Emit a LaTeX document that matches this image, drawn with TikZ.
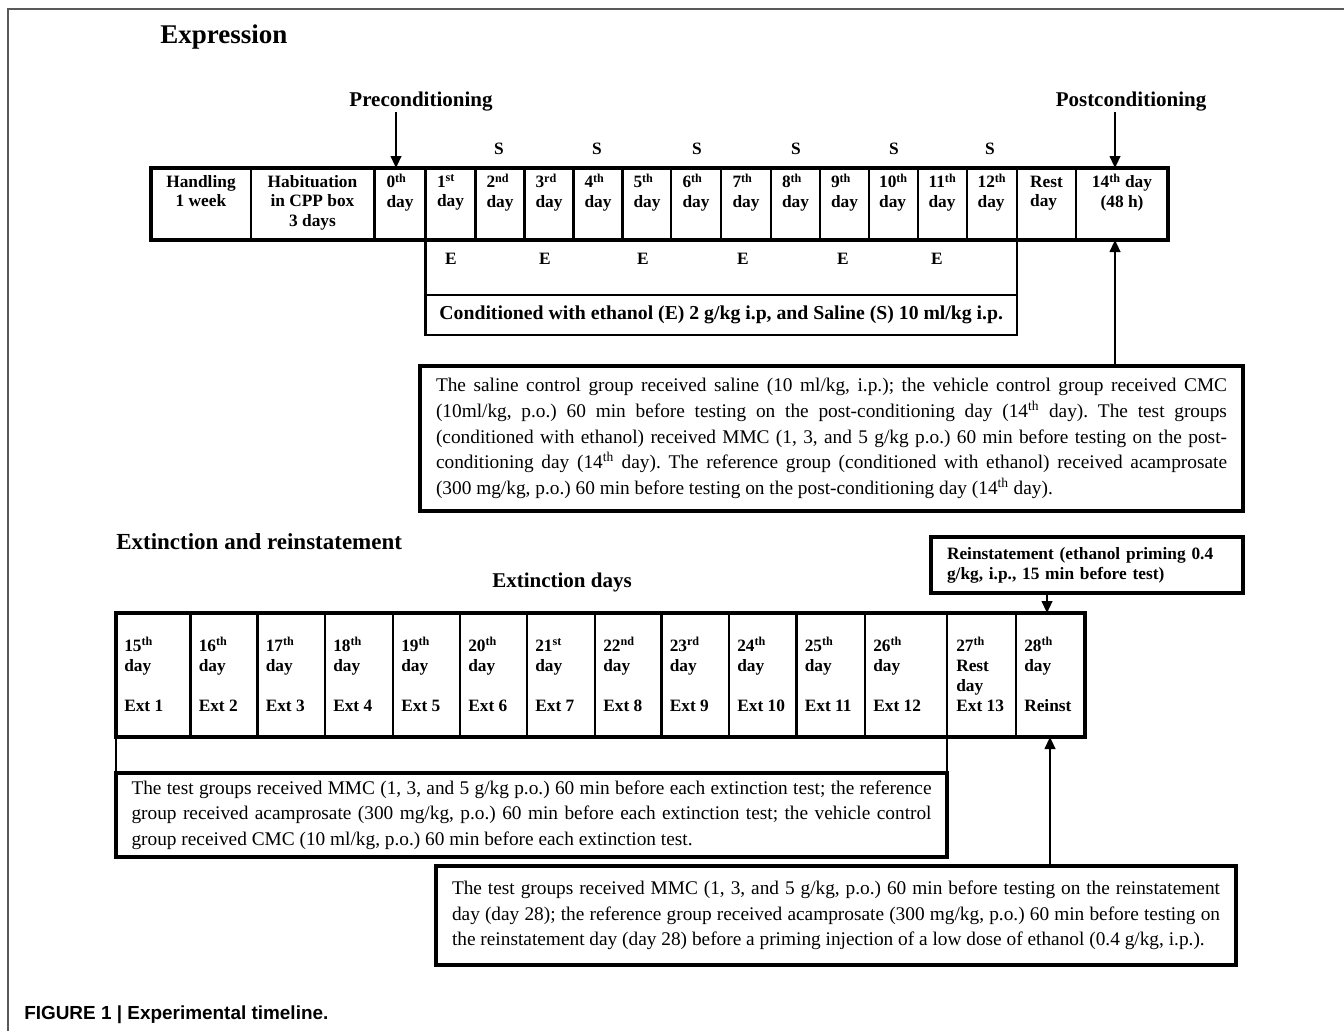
\documentclass[tikz,border=0pt]{standalone}
\usepackage{fontspec}
\setmainfont{Liberation Serif}
\newfontfamily\capfont{Liberation Sans}
\usetikzlibrary{arrows.meta}
\newdimen\pxu \pxu=0.75pt
\begin{document}
\frenchspacing
\begin{tikzpicture}[x=0.75pt,y=-0.75pt,
  frame/.style={draw=black!65, line width=1.4pt},
  outerbox/.style={draw, line width=2.6pt, inner sep=0pt, outer sep=0pt, anchor=north west},
  divider/.style={line width=1.6pt},
  thinbox/.style={draw, line width=1.8pt},
  txtbox/.style={draw, line width=2.3pt, anchor=north west, inner xsep=16\pxu, inner ysep=0pt, outer sep=0pt, align=justify, font=\fontsize{14.5}{19.2}\selectfont},
  tcell/.style={anchor=north, inner sep=0pt, font=\bfseries\fontsize{13}{14.6}\selectfont},
  bcell/.style={anchor=north west, inner sep=0pt, align=left, font=\bfseries\fontsize{13}{15}\selectfont},
  lab/.style={anchor=base, inner sep=0pt, font=\bfseries\fontsize{13}{15}\selectfont},
  head/.style={anchor=base, inner sep=0pt, font=\bfseries\fontsize{15.75}{18}\selectfont},
  arr/.style={line width=1.5pt, -{Triangle[length=9pt,width=8pt]}},
]
\useasboundingbox (0,0) rectangle (1344,1031);
% frame
\draw[frame] (1344,9) -- (8,9) -- (8,1031);

% headings
\node[anchor=base west, inner sep=0pt, font=\bfseries\fontsize{20.25}{24}\selectfont] (expr) at (160,44) {Expression};
\node[head] (pre) at (421,106) {Preconditioning};
\node[head] (post) at (1131,106) {Postconditioning};

% top timeline
\node[outerbox, minimum width=1017\pxu, minimum height=72\pxu] (tl1) at (151,168) {};
\foreach \x in {251,374.5,425.5,475.5,524.5,573.5,622.5,671,721,771,820,869,918,967,1017,1076}
  \draw[divider] (\x,168) -- (\x,240);
\node[tcell, align=center] (c0) at (201,173.4) {\strut Handling\\1 week};
\node[tcell, align=center] (c1) at (312.5,173.4) {\strut Habituation\\in CPP box\\3 days};
\foreach \cx/\n/\s [count=\i] in {400/0/th, 450.5/1/st, 500/2/nd, 549/3/rd, 598/4/th, 647/5/th, 696/6/th, 746/7/th, 795.5/8/th, 844.5/9/th, 893.5/10/th, 942.5/11/th, 992/12/th}
  \node[tcell, align=left] (d\i) at (\cx,173.4) {\strut\n\textsuperscript{\s}\\day};
\node[tcell, align=left] (rest) at (1046.5,173.4) {\strut Rest\\day};
\node[tcell, align=center] (d14) at (1122,173.4) {\strut 14\textsuperscript{th} day\\(48 h)};

% S and E labels
\foreach \sx [count=\i] in {499,597,697,796,894,990}
  \node[lab] (s\i) at (\sx,154) {S};
\draw[thinbox] (425.5,240) rectangle (1017,295);
\foreach \ex [count=\i] in {451,545,643,743,843,937}
  \node[lab] (e\i) at (\ex,264) {E};
\node[draw, line width=1.8pt, anchor=north west, minimum width=591.5\pxu, minimum height=40\pxu, inner sep=0pt, outer sep=0pt, font=\bfseries\fontsize{14.8}{17}\selectfont] (cond) at (425.5,295) {Conditioned with ethanol (E) 2 g/kg i.p, and Saline (S) 10 ml/kg i.p.};

% control text box
\node[txtbox, text width=791\pxu, minimum height=145\pxu] (ctrl) at (420,366) {The saline control group received saline (10 ml/kg, i.p.); the vehicle control group received CMC\linebreak (10ml/kg, p.o.) 60 min before testing on the post-conditioning day (14\textsuperscript{th} day). The test groups\linebreak (conditioned with ethanol) received MMC (1, 3, and 5 g/kg p.o.) 60 min before testing on the post-\linebreak conditioning day (14\textsuperscript{th} day). The reference group (conditioned with ethanol) received acamprosate\linebreak (300 mg/kg, p.o.) 60 min before testing on the post-conditioning day (14\textsuperscript{th} day).};

% arrows top
\coordinate (pa) at (396,112);
\draw[arr] (pa) -- (pa |- tl1.north);
\coordinate (qa) at (1115,112);
\draw[arr] (qa) -- (qa |- tl1.north);
\draw[arr] (qa |- ctrl.north) -- (qa |- tl1.south);

% extinction section
\node[anchor=base west, inner sep=0pt, font=\bfseries\fontsize{17.25}{20}\selectfont] (extr) at (116,549) {Extinction and reinstatement};
\node[head] (extd) at (562,587) {Extinction days};
\node[draw, line width=2.3pt, anchor=north west, minimum width=312\pxu, minimum height=56\pxu, text width=280\pxu, inner xsep=16\pxu, inner ysep=0pt, outer sep=0pt, align=left, font=\bfseries\fontsize{13}{15}\selectfont] (rbox) at (931,537) {Reinstatement (ethanol priming 0.4\\g/kg, i.p., 15 min before test)};

\node[outerbox, minimum width=969\pxu, minimum height=124\pxu] (tl2) at (116,613) {};
\foreach \x in {190.5,257.5,325,393,460,527,595,661.5,729,796.5,865,947,1016}
  \draw[divider] (\x,613) -- (\x,737);
\foreach \lx/\n/\s/\e [count=\i] in {116/15/th/Ext 1, 190.5/16/th/Ext 2, 257.5/17/th/Ext 3, 325/18/th/Ext 4, 393/19/th/Ext 5, 460/20/th/Ext 6, 527/21/st/Ext 7, 595/22/nd/Ext 8, 661.5/23/rd/Ext 9, 729/24/th/Ext 10, 796.5/25/th/Ext 11, 865/26/th/Ext 12}
  \node[bcell] (b\i) at (\lx+8,637) {\strut\n\textsuperscript{\s}\\day\\[15pt]\e};
\node[bcell] (b13) at (956,637) {\strut 27\textsuperscript{th}\\Rest\\day\\Ext 13};
\node[bcell] (b14) at (1024,637) {\strut 28\textsuperscript{th}\\day\\[15pt]Reinst};

\coordinate (ra) at (1047,0);
\draw[arr] (ra |- rbox.south) -- (ra |- tl2.north);

\draw[thinbox, line width=2.1pt] (116,737) rectangle (947,773);
\node[txtbox, text width=800\pxu, inner xsep=15.5\pxu, minimum height=84\pxu] (ext) at (116,773) {The test groups received MMC (1, 3, and 5 g/kg p.o.) 60 min before each extinction test; the reference\linebreak group received acamprosate (300 mg/kg, p.o.) 60 min before each extinction test; the vehicle control\linebreak group received CMC (10 ml/kg, p.o.) 60 min before each extinction test.};

\node[txtbox, text width=768\pxu, minimum height=99\pxu] (rein) at (436,866) {The test groups received MMC (1, 3, and 5 g/kg, p.o.) 60 min before testing on the reinstatement\linebreak day (day 28); the reference group received acamprosate (300 mg/kg, p.o.) 60 min before testing on\linebreak the reinstatement day (day 28) before a priming injection of a low dose of ethanol (0.4 g/kg, i.p.).};

\coordinate (sa) at (1050,0);
\draw[arr] (sa |- rein.north) -- (sa |- tl2.south);

% caption
\node[anchor=base west, inner sep=0pt, font=\capfont\bfseries\fontsize{14.2}{16}\selectfont] (cap) at (24,1019.5) {FIGURE 1 | Experimental timeline.};
\end{tikzpicture}
\end{document}
